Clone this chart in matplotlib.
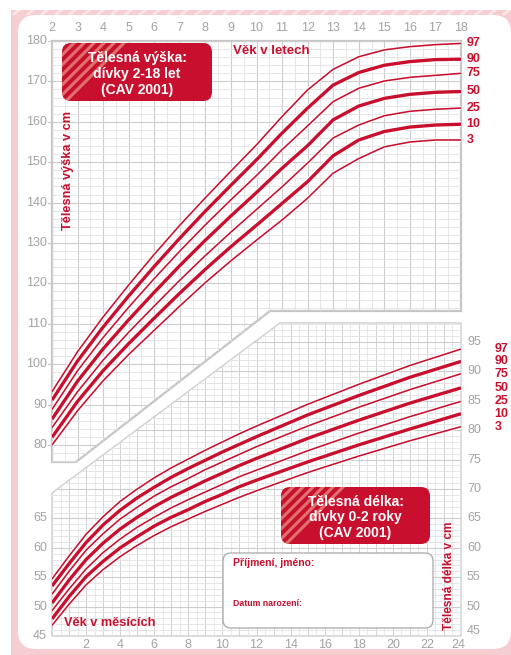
import numpy as np
import matplotlib.pyplot as plt
from matplotlib.patches import Polygon, FancyBboxPatch, Rectangle
import matplotlib.patheffects as pe

plt.rcParams['font.family'] = ['Liberation Sans', 'DejaVu Sans']

# ------------------------------------------------------------------
# Telesna vyska, divky 2-18 let (CAV 2001)
# ------------------------------------------------------------------
ages = [2, 3, 4, 5, 6, 7, 8, 9, 10, 11, 12, 13, 14, 15, 16, 17, 18]
h97 = [93.2, 103.1, 111.7, 119.6, 127.2, 134.4, 141.2, 147.8, 154.3, 161.3, 167.9, 173.0, 176.1, 177.8, 178.6, 179.1, 179.4]
h90 = [91.1, 100.8, 109.2, 116.9, 124.2, 131.2, 137.9, 144.3, 150.6, 157.2, 163.4, 169.1, 172.2, 174.0, 174.9, 175.4, 175.5]
h75 = [88.8, 98.4, 106.6, 114.1, 121.2, 128.0, 134.5, 140.7, 146.7, 153.1, 159.0, 165.0, 168.3, 170.1, 171.0, 171.5, 172.0]
h50 = [86.4, 95.8, 103.8, 111.0, 117.8, 124.4, 130.7, 136.7, 142.5, 148.5, 154.1, 160.5, 163.9, 165.8, 166.8, 167.3, 167.5]
h25 = [84.3, 93.2, 101.0, 107.9, 114.4, 120.8, 126.9, 132.7, 138.3, 143.9, 149.8, 156.0, 159.2, 161.5, 162.6, 163.1, 163.4]
h10 = [81.9, 90.8, 98.4, 105.1, 111.4, 117.6, 123.5, 129.1, 134.4, 139.8, 145.2, 151.6, 155.5, 157.6, 158.7, 159.2, 159.4]
h3 = [80.0, 88.5, 95.9, 102.4, 108.4, 114.4, 120.2, 125.6, 130.7, 135.7, 141.1, 147.3, 150.9, 153.8, 155.0, 155.5, 155.5]

# Telesna delka, divky 0-2 roky (CAV 2001)
months = [0, 1, 2, 3, 4, 5, 6, 7, 8, 9, 10, 11, 12, 15, 18, 21, 24]
l97 = [54.7, 58.6, 62.3, 65.3, 67.9, 70.0, 71.9, 73.6, 75.1, 76.6, 78.0, 79.4, 80.7, 84.4, 87.8, 91.0, 93.8]
l90 = [53.5, 57.3, 60.9, 63.9, 66.4, 68.5, 70.3, 72.0, 73.5, 74.9, 76.3, 77.6, 78.9, 82.6, 85.9, 89.0, 91.7]
l75 = [52.1, 56.0, 59.6, 62.4, 64.9, 66.9, 68.8, 70.4, 71.8, 73.3, 74.6, 75.9, 77.2, 80.7, 83.9, 86.9, 89.6]
l50 = [50.6, 54.5, 58.0, 60.8, 63.2, 65.2, 67.0, 68.6, 70.0, 71.4, 72.7, 74.0, 75.2, 78.6, 81.7, 84.6, 87.2]
l25 = [49.3, 53.0, 56.4, 59.2, 61.5, 63.5, 65.2, 66.8, 68.2, 69.5, 70.8, 72.1, 73.2, 76.5, 79.5, 82.3, 84.9]
l10 = [47.9, 51.7, 55.1, 57.7, 60.0, 61.9, 63.7, 65.2, 66.5, 67.9, 69.1, 70.4, 71.5, 74.6, 77.5, 80.2, 82.8]
l3 = [46.8, 50.4, 53.7, 56.3, 58.5, 60.4, 62.1, 63.6, 64.9, 66.2, 67.4, 68.6, 69.7, 72.8, 75.6, 78.2, 80.6]

pct = ['97', '90', '75', '50', '25', '10', '3']
upper = [h97, h90, h75, h50, h25, h10, h3]
lower = [l97, l90, l75, l50, l25, l10, l3]
thick = ['90', '50', '10']

year_ticks = list(range(2, 19))
height_ticks = list(range(80, 181, 10))
month_ticks = list(range(2, 25, 2))
len_left_ticks = [45, 50, 55, 60, 65]
len_right_ticks = list(range(45, 96, 5))

RED = '#c8102e'
PINK = '#f6cdd0'
GRAY = '#a3a3a3'

W, H = 511, 655
fig = plt.figure(figsize=(W / 100, H / 100), dpi=100)

# pixel layout helpers (background drawing)
def ux(a): return 52 + (a - 2) * 409 / 16
def uy(v): return 41 + (180 - v) * 4.04
def lx(m): return 52 + m * 409 / 24
def ly(v): return 636 - (v - 45) * 5.88

bg = fig.add_axes([0, 0, 1, 1])
bg.set_xlim(0, W)
bg.set_ylim(H, 0)
bg.axis('off')

bg.add_patch(Rectangle((11, 10), 500, 645, fc=PINK, ec='none'))
# faint stripes on the frame
for k in range(0, 520, 14):
    bg.plot([k, k + 8], [14, 8], color='white', lw=2, alpha=0.5, clip_on=True)
bg.add_patch(FancyBboxPatch((18, 15), 493, 634, boxstyle='round,pad=0,rounding_size=18',
                            fc='white', ec='none'))

# ---------------- grids ----------------
up_poly = [(52, 41), (461, 41), (461, 311), (270, 311), (76, 462), (52, 462)]
lo_poly = [(52, 493), (280, 323), (461, 323), (461, 636), (52, 636)]
clip_up = Polygon(up_poly, closed=True, transform=bg.transData, fc='none', ec='none')
clip_lo = Polygon(lo_poly, closed=True, transform=bg.transData, fc='none', ec='none')
bg.add_patch(clip_up)
bg.add_patch(clip_lo)

for a in np.arange(2, 18.01, 0.5):
    major = float(a).is_integer()
    ln, = bg.plot([ux(a), ux(a)], [30, 470], color='#cdcdcd' if major else '#e2e2e2',
                  lw=0.8 if major else 0.6)
    ln.set_clip_path(clip_up)
for v in range(74, 181, 2):
    major = v % 10 == 0
    ln, = bg.plot([40, 470], [uy(v), uy(v)], color='#cdcdcd' if major else '#e2e2e2',
                  lw=0.8 if major else 0.6)
    ln.set_clip_path(clip_up)

for m in np.arange(0, 24.01, 0.5):
    major = float(m).is_integer()
    ln, = bg.plot([lx(m), lx(m)], [315, 640], color='#d2d2d2' if major else '#e4e4e4',
                  lw=0.7 if major else 0.6)
    ln.set_clip_path(clip_lo)
for v in range(45, 100):
    major = v % 5 == 0
    ln, = bg.plot([40, 470], [ly(v), ly(v)], color='#cdcdcd' if major else '#e2e2e2',
                  lw=0.8 if major else 0.6)
    ln.set_clip_path(clip_lo)

bg.add_patch(Polygon(up_poly, closed=True, fc='none', ec='#c6c6c6', lw=1.6))
bg.add_patch(Polygon(lo_poly, closed=True, fc='none', ec='#cfcfcf', lw=1.0))

# ---------------- tick labels ----------------
for a in year_ticks:
    bg.text(ux(a), 28, str(a), color=GRAY, fontsize=9, ha='center', va='center')
for v in height_ticks:
    bg.text(47, uy(v), str(v), color=GRAY, fontsize=9, ha='right', va='center')
    bg.plot([48, 52], [uy(v), uy(v)], color='#c6c6c6', lw=0.8)
for m in month_ticks:
    bg.text(lx(m) - (3 if m == 24 else 0), 645, str(m), color=GRAY, fontsize=9,
            ha='center', va='center')
for v in len_left_ticks:
    bg.text(47, ly(v), str(v), color=GRAY, fontsize=9, ha='right', va='center')
for v in len_right_ticks:
    bg.text(467, ly(v) - (5 if v == 45 else 0), str(v), color=GRAY, fontsize=9,
            ha='left', va='center')

# ---------------- data axes ----------------
pos = [52 / W, (H - 636) / H, 409 / W, 595 / H]
ax1 = fig.add_axes(pos, label='vyska')
ax1.set_xlim(2, 18)
ax1.set_ylim(180 - 595 / 4.04, 180)
ax1.axis('off')

ax2 = fig.add_axes(pos, label='delka')
ax2.set_xlim(0, 24)
ax2.set_ylim(45, 45 + 595 / 5.88)
ax2.axis('off')

for name, vals in zip(pct, upper):
    lw = 2.4 if name in thick else 1.15
    ax1.plot(ages, vals, color=RED, lw=lw, solid_capstyle='butt',
             path_effects=[pe.Stroke(linewidth=lw + 1.4, foreground='white'), pe.Normal()])
    ax1.annotate(name, xy=(ages[-1], vals[-1]), xytext=(4, 0), textcoords='offset points',
                 color=RED, fontsize=9, fontweight='bold', va='center', ha='left',
                 annotation_clip=False)

for name, vals in zip(pct, lower):
    lw = 2.4 if name in thick else 1.15
    ax2.plot(months, vals, color=RED, lw=lw, solid_capstyle='butt',
             path_effects=[pe.Stroke(linewidth=lw + 1.4, foreground='white'), pe.Normal()])
    ax2.annotate(name, xy=(months[-1], vals[-1]), xytext=(24, 0), textcoords='offset points',
                 color=RED, fontsize=9, fontweight='bold', va='center', ha='left',
                 annotation_clip=False)

# ---------------- overlay boxes and titles ----------------
fg = fig.add_axes([0, 0, 1, 1], label='fg')
fg.set_xlim(0, W)
fg.set_ylim(H, 0)
fg.axis('off')


def title_box(x, y, w, h, text):
    box = FancyBboxPatch((x, y), w, h, boxstyle='round,pad=0,rounding_size=9',
                         fc=RED, ec='none')
    fg.add_patch(box)
    for c in range(12, 70, 10):
        s, = fg.plot([x, x + c], [y + c, y], color='#e58a7e', lw=2.2, alpha=0.8)
        s.set_clip_path(box)
    fg.text(x + w / 2, y + h / 2 + 2, text, color='white', fontsize=10, fontweight='bold',
            ha='center', va='center', linespacing=1.15)


title_box(62, 43, 150, 58, 'Tělesná výška:\ndívky 2-18 let\n(CAV 2001)')
title_box(281, 487, 149, 57, 'Tělesná délka:\ndívky 0-2 roky\n(CAV 2001)')

fg.text(233, 51, 'Věk v letech', color=RED, fontsize=9.5, fontweight='bold',
        ha='left', va='center')
fg.text(68, 170, 'Tělesná výška v cm', color=RED, fontsize=9.2, fontweight='bold',
        rotation=90, ha='center', va='center')
fg.text(64, 623, 'Věk v měsících', color=RED, fontsize=9.2, fontweight='bold',
        ha='left', va='center')
fg.text(449, 576, 'Tělesná délka v cm', color=RED, fontsize=8.6, fontweight='bold',
        rotation=90, ha='center', va='center')

fg.add_patch(FancyBboxPatch((223, 553), 210, 75, boxstyle='round,pad=0,rounding_size=8',
                            fc='white', ec='#a8a8a8', lw=0.9))
fg.text(233, 563, 'Příjmení, jméno:', color=RED, fontsize=7.5, fontweight='bold',
        ha='left', va='center')
fg.text(233, 604, 'Datum narození:', color=RED, fontsize=6.3, fontweight='bold',
        ha='left', va='center')

fig.savefig('out.png', dpi=100)
